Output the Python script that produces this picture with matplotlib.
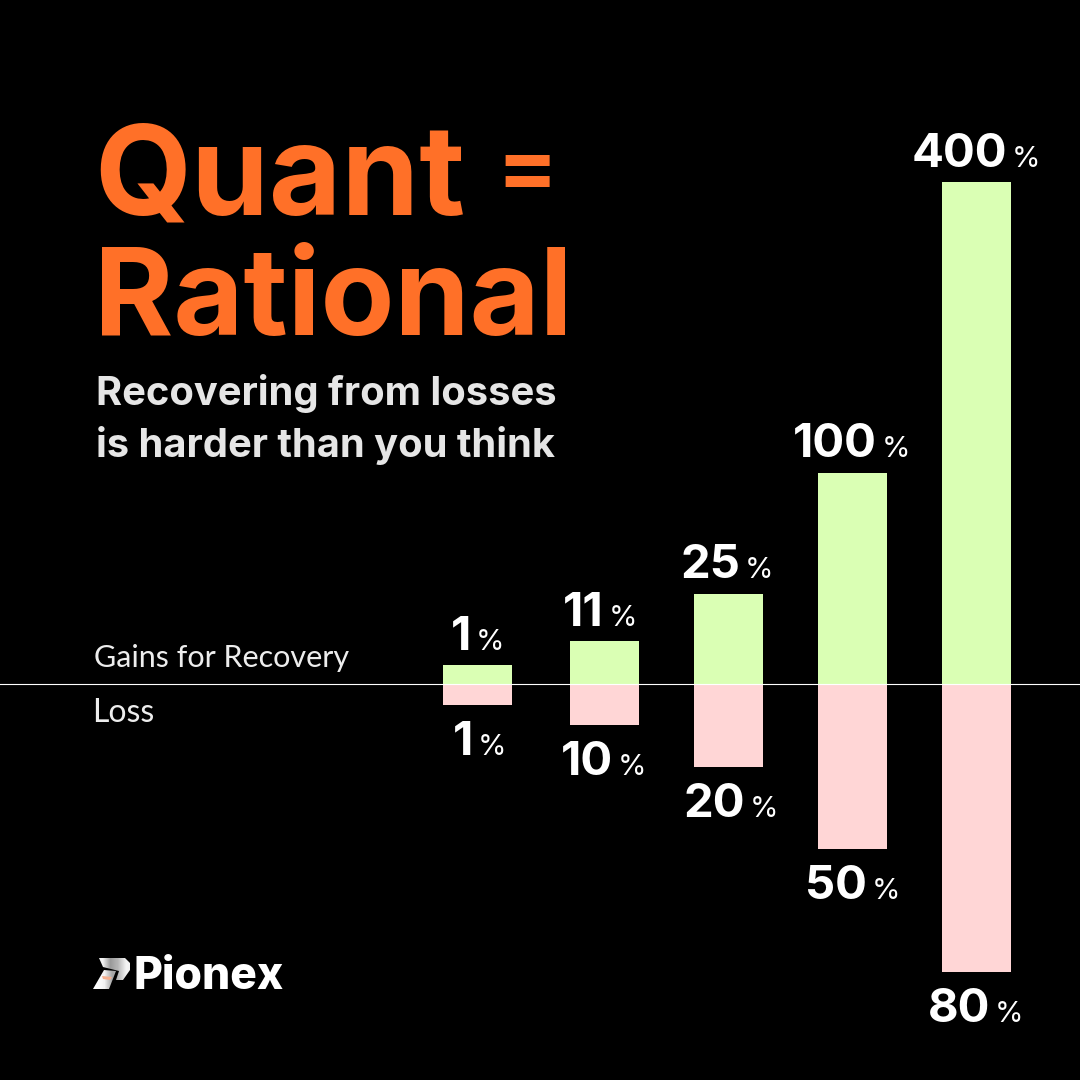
import matplotlib
matplotlib.use("Agg")
import matplotlib.pyplot as plt
from matplotlib.patches import Polygon
import numpy as np

BLACK = "#000000"
ORANGE = "#FF7028"
GREEN = "#DAFFB4"
PINK = "#FFD6D6"

# bar heights are read off the picture, the chart is not to a linear scale
gain_labels = ["1", "11", "25", "100", "400"]
loss_labels = ["1", "10", "20", "50", "80"]
gain_heights = [20, 44, 91, 212, 503]
loss_heights = [20, 40, 82, 164, 287]
bar_centers = [477.5, 604.5, 728.5, 852.5, 976.5]

plt.rcParams["font.family"] = ["Inter", "DejaVu Sans"]

fig = plt.figure(figsize=(10.8, 10.8), dpi=100, facecolor=BLACK)
ax = fig.add_axes([0, 0, 1, 1])
ax.set_xlim(0, 1080)
ax.set_ylim(395, -685)
ax.axis("off")

ax.bar(bar_centers, [-h for h in gain_heights], width=69, color=GREEN, linewidth=0)
ax.bar(bar_centers, loss_heights, width=69, color=PINK, linewidth=0)
ax.axhline(-1, color="white", linewidth=0.8)


def pct_label(x, y, num, gap=5):
    ax.text(x, y, num, color="white", fontsize=34, fontweight="bold", ha="right", va="baseline")
    ax.text(x + gap, y, "%", color="white", fontsize=21, ha="left", va="baseline")


gain_pos = [(471, -35), (604, -59), (740, -107), (877, -228), (1007, -518)]
loss_pos = [(473, 70), (613, 90), (745, 132), (867, 214), (990, 337)]
for (x, y), lab in zip(gain_pos, gain_labels):
    pct_label(x, y, lab)
for (x, y), lab in zip(loss_pos, loss_labels):
    pct_label(x, y, lab)

ax.text(94, -18, "Gains for Recovery", color="#EDEDED", fontsize=22, family="Lato", va="baseline")
ax.text(92, 37, "Loss", color="#EDEDED", fontsize=23, family="Lato", va="baseline")

ax.text(94, -470, "Quant", color=ORANGE, fontsize=90, fontweight="bold", va="baseline")
ax.text(496, -488, "=", color=ORANGE, fontsize=65, fontweight="bold", va="baseline")
ax.text(94, -350, "Rational", color=ORANGE, fontsize=87, fontweight="bold", va="baseline")
ax.text(96, -280, "Recovering from losses", color="#E6E6E6", fontsize=28.7, fontweight="bold", va="baseline")
ax.text(96, -228, "is harder than you think", color="#E6E6E6", fontsize=28.7, fontweight="bold", va="baseline")

# logo mark, two pieces with a grey sheen
top = Polygon([(99, 273), (125, 273), (130, 278), (130, 285), (123, 295), (116, 295),
               (119, 286), (103, 282)], closed=True, facecolor="none", linewidth=0)
leg = Polygon([(104, 285), (116, 286), (109, 304), (93, 304)], closed=True, facecolor="none", linewidth=0)
ax.add_patch(top)
ax.add_patch(leg)
im_top = ax.imshow(np.array([[0.95, 0.6, 0.72, 0.95]]), extent=(99, 130, 304, 273), cmap="gray",
                   vmin=0, vmax=1, aspect="auto", interpolation="bilinear", zorder=3)
im_top.set_clip_path(top)
im_leg = ax.imshow(np.array([[1.0, 0.95, 0.65]]), extent=(93, 116, 304, 285), cmap="gray",
                   vmin=0, vmax=1, aspect="auto", interpolation="bilinear", zorder=3)
im_leg.set_clip_path(leg)
ax.add_patch(Polygon([(102, 291), (112, 292), (110, 295), (103, 294)], closed=True,
                     facecolor="#F4B090", linewidth=0, zorder=4))
ax.set_xlim(0, 1080)
ax.set_ylim(395, -685)

ax.text(134, 304, "Pionex", color="white", fontsize=32, fontweight="heavy", va="baseline")

fig.savefig("out.png", dpi=100, facecolor=BLACK)
